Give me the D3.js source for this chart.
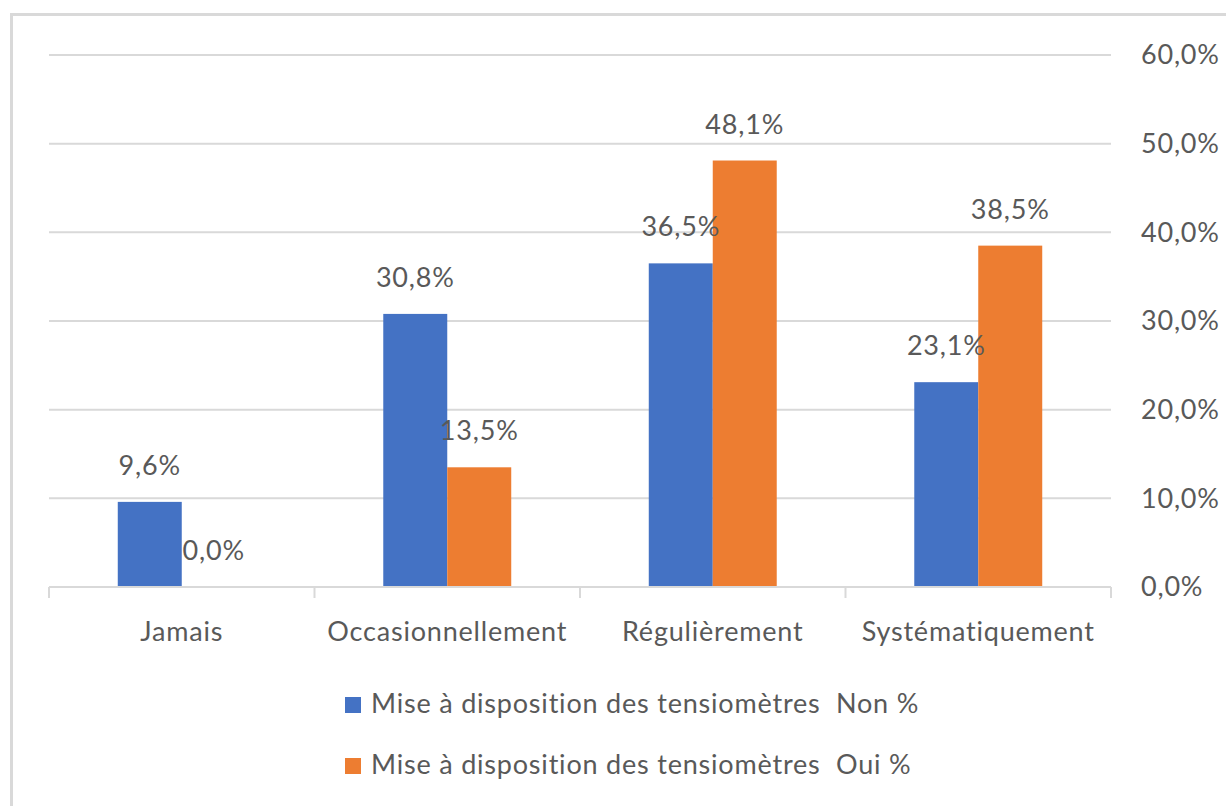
<!DOCTYPE html>
<html>
<head>
<meta charset="utf-8">
<script src="https://cdn.jsdelivr.net/npm/d3@7"></script>
<style>
  html, body { margin: 0; padding: 0; background: #fff; }
  svg { display: block; }
  text { font-family: Lato, "Open Sans", sans-serif; fill: #595959; letter-spacing: 0.8px; }
</style>
</head>
<body>
<div id="chart"></div>
<script>
// chart values
var categories = ['Jamais', 'Occasionnellement', 'Régulièrement', 'Systématiquement']
var seriesNames = ['Mise à disposition des tensiomètres  Non %', 'Mise à disposition des tensiomètres  Oui %']
var nonValues = [9.6, 30.8, 36.5, 23.1]
var ouiValues = [0.0, 13.5, 48.1, 38.5]
var yTicks = [0, 10, 20, 30, 40, 50, 60]
var colors = ['#4472C4', '#ED7D31']

var W = 1226
var H = 806
var plot = { left: 49, right: 1111, top: 55, bottom: 587 }
var fontSize = 27

var svg = d3.select('#chart').append('svg')
  .attr('width', W)
  .attr('height', H)

// outer chart border (only top and left are visible in the picture)
svg.append('path')
  .attr('d', 'M11.5,' + H + ' V14.5 H' + W)
  .attr('fill', 'none')
  .attr('stroke', '#d9d9d9')
  .attr('stroke-width', 3)

var x0 = d3.scaleBand()
  .domain(categories)
  .range([plot.left, plot.right])
  .paddingInner(0)
  .paddingOuter(0)

var groupWidth = x0.bandwidth() * 0.482
var x1 = d3.scaleBand()
  .domain([0, 1])
  .range([0, groupWidth])

var y = d3.scaleLinear()
  .domain([0, 60])
  .range([plot.bottom, plot.top])

// gridlines
svg.append('g').selectAll('line')
  .data(yTicks.slice(1))
  .join('line')
  .attr('x1', plot.left)
  .attr('x2', plot.right)
  .attr('y1', function (d) { return y(d) })
  .attr('y2', function (d) { return y(d) })
  .attr('stroke', '#d9d9d9')
  .attr('stroke-width', 2)

// right axis labels
svg.append('g').selectAll('text')
  .data(yTicks)
  .join('text')
  .attr('x', 1141)
  .attr('y', function (d) { return y(d) })
  .attr('dy', '0.35em')
  .attr('font-size', fontSize)
  .text(function (d) { return d3.format('.1f')(d).replace('.', ',') + '%' })

// bars
var groups = svg.append('g').selectAll('g')
  .data(categories)
  .join('g')
  .attr('transform', function (d) {
    return 'translate(' + (x0(d) + (x0.bandwidth() - groupWidth) / 2) + ',0)'
  })

groups.selectAll('rect')
  .data(function (d, i) { return [nonValues[i], ouiValues[i]] })
  .join('rect')
  .attr('x', function (d, j) { return x1(j) })
  .attr('width', x1.bandwidth())
  .attr('y', function (d) { return y(d) })
  .attr('height', function (d) { return y(0) - y(d) })
  .attr('fill', function (d, j) { return colors[j] })

// x axis line and ticks
var xAxis = svg.append('g')
xAxis.append('line')
  .attr('x1', plot.left)
  .attr('x2', plot.right)
  .attr('y1', plot.bottom)
  .attr('y2', plot.bottom)
  .attr('stroke', '#d9d9d9')
  .attr('stroke-width', 2)

var tickPos = categories.map(function (c) { return x0(c) })
tickPos.push(plot.right)
xAxis.selectAll('.tick')
  .data(tickPos)
  .join('line')
  .attr('class', 'tick')
  .attr('x1', function (d) { return d })
  .attr('x2', function (d) { return d })
  .attr('y1', plot.bottom)
  .attr('y2', plot.bottom + 11)
  .attr('stroke', '#d9d9d9')
  .attr('stroke-width', 2)

// data labels
groups.selectAll('text.lbl')
  .data(function (d, i) { return [nonValues[i], ouiValues[i]] })
  .join('text')
  .attr('class', 'lbl')
  .attr('x', function (d, j) { return x1(j) + x1.bandwidth() / 2 })
  .attr('y', function (d) { return y(d) - 27 })
  .attr('text-anchor', 'middle')
  .attr('font-size', fontSize)
  .text(function (d) { return d3.format('.1f')(d).replace('.', ',') + '%' })

// category labels
svg.append('g').selectAll('text')
  .data(categories)
  .join('text')
  .attr('x', function (d) { return x0(d) + x0.bandwidth() / 2 })
  .attr('y', 641)
  .attr('text-anchor', 'middle')
  .attr('font-size', fontSize)
  .text(function (d) { return d })

// legend
var legend = svg.append('g').selectAll('g')
  .data(seriesNames)
  .join('g')
  .attr('transform', function (d, i) { return 'translate(345,' + (697 + i * 61) + ')' })

legend.append('rect')
  .attr('width', 16)
  .attr('height', 16)
  .attr('fill', function (d, i) { return colors[i] })

legend.append('text')
  .attr('x', 26)
  .attr('y', 16)
  .attr('font-size', fontSize)
  .style('white-space', 'pre')
  .text(function (d) { return d })
</script>
</body>
</html>
